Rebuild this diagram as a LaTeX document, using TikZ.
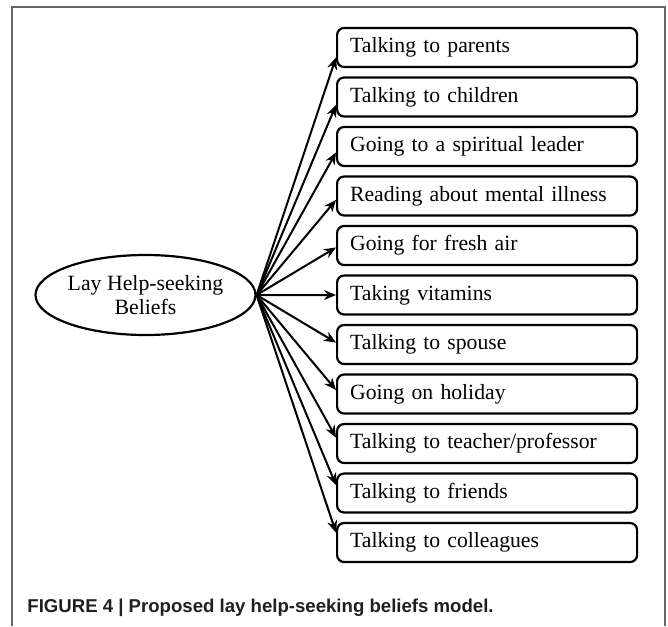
\documentclass[tikz,border=0pt]{standalone}
\usepackage{fontspec}
\setmainfont{Liberation Serif}
\newfontfamily\capfont{Liberation Sans}
\usetikzlibrary{arrows.meta,calc,shapes.geometric}
\tikzset{
  itembox/.style={draw, line width=1.1pt, rounded corners=3.5pt, anchor=west,
    minimum width=150pt, minimum height=19.5pt, inner xsep=6.5pt,
    text width=137pt, align=left, font=\fontsize{10.85}{13}\selectfont},
  rootell/.style={draw, ellipse, line width=1.1pt, minimum width=106.5pt,
    minimum height=40pt, inner sep=0pt, align=center,
    font=\fontsize{10.9}{12}\selectfont},
  arr/.style={line width=1pt, -{Stealth[length=6pt,width=5pt]}},
  frameline/.style={draw=black!60, line width=0.7pt}
}
\begin{document}
\begin{tikzpicture}[x=0.5pt,y=-0.5pt]
\useasboundingbox (0,0) rectangle (668,626);
\draw[frameline] (12,626) -- (12,7) -- (665,7) -- (665,626);
\node[rootell] (e) at (145.5,295) {Lay Help-seeking\\Beliefs};
\foreach \t [count=\i] in {Talking to parents, Talking to children, Going to a spiritual leader, Reading about mental illness, Going for fresh air, Taking vitamins, Talking to spouse, Going on holiday, Talking to teacher/professor, Talking to friends, Talking to colleagues}{
  \node[itembox] (b\i) at (336,{47.5+49.5*(\i-1)}) {\t};
  \draw[arr] (e.east) -- ($(b\i.west)!0.04!(b\i.west |- e.east)$);
}
\node[anchor=base west, inner sep=0pt, text=black!88, font=\capfont\bfseries\fontsize{9.3}{11}\selectfont] (cap) at (27,612.5) {FIGURE 4 | Proposed lay help-seeking beliefs model.};
\end{tikzpicture}
\end{document}
